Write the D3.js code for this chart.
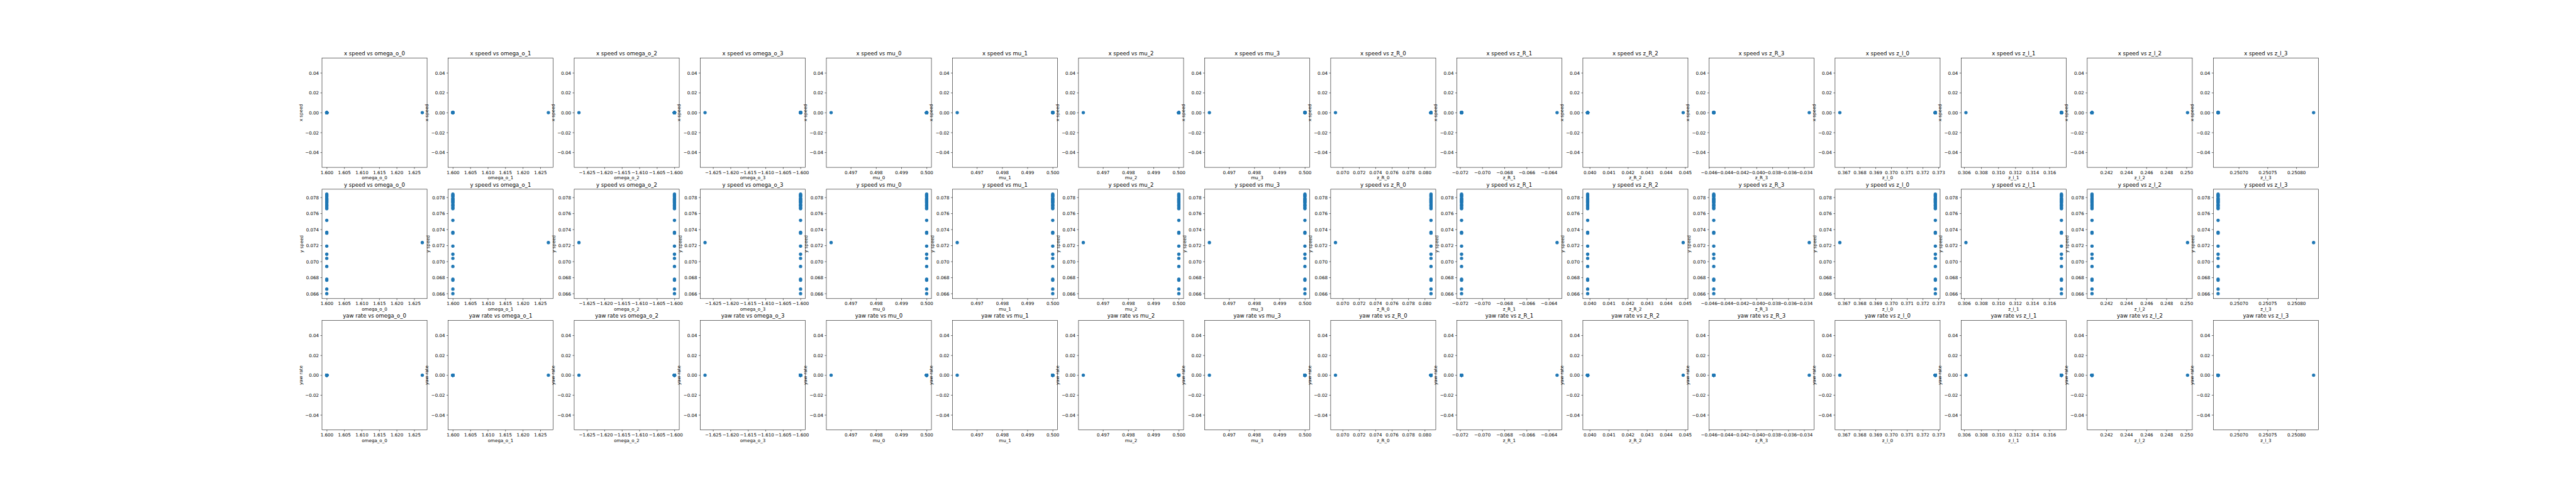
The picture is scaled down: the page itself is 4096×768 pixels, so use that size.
<!DOCTYPE html>
<html><head><meta charset="utf-8">
<script src="https://cdn.jsdelivr.net/npm/d3@7"></script>
<style>
html,body{margin:0;padding:0;background:#fff;overflow:hidden;}
svg{display:block;}
text{font-family:"DejaVu Sans",sans-serif;fill:#000;}
</style>
</head><body><div id="chart"></div>
<script>
// ---------------- data ----------------
const rowNames = ["x speed", "y speed", "yaw rate"];
const varNames = ["omega_o_0","omega_o_1","omega_o_2","omega_o_3",
                  "mu_0","mu_1","mu_2","mu_3",
                  "z_R_0","z_R_1","z_R_2","z_R_3",
                  "z_l_0","z_l_1","z_l_2","z_l_3"];

const xSpeed = [0, 0,0,0,0,0,0,0,0, 0,0,0,0,0,0,0,0, 0,0,0,0,0,0,0,0,0,0,0];
const ySpeed = [0.07236,
  0.0784, 0.0783, 0.0782, 0.0781, 0.0779, 0.0778, 0.0777, 0.0776,
  0.0775, 0.0774, 0.0773, 0.0771, 0.0770, 0.0769, 0.0767, 0.0766,
  0.07514, 0.07364, 0.07354, 0.07192, 0.07091, 0.07039, 0.06938, 0.0678, 0.06766, 0.06656, 0.06599];
const yawRate = [0, 0,0,0,0,0,0,0,0, 0,0,0,0,0,0,0,0, 0,0,0,0,0,0,0,0,0,0,0];

const omega_o_0 = [1.6273, 1.6,1.6,1.6,1.6,1.6,1.6,1.6,1.6,1.6, 1.6,1.6,1.6,1.6,1.6,1.6,1.6,1.6,1.6, 1.6,1.6,1.6,1.6,1.6,1.6,1.6,1.6,1.6];
const omega_o_1 = [1.6273, 1.6,1.6,1.6,1.6,1.6,1.6,1.6,1.6,1.6, 1.6,1.6,1.6,1.6,1.6,1.6,1.6,1.6,1.6, 1.6,1.6,1.6,1.6,1.6,1.6,1.6,1.6,1.6];
const omega_o_2 = [-1.6273, -1.6,-1.6,-1.6,-1.6,-1.6,-1.6,-1.6,-1.6,-1.6, -1.6,-1.6,-1.6,-1.6,-1.6,-1.6,-1.6,-1.6,-1.6, -1.6,-1.6,-1.6,-1.6,-1.6,-1.6,-1.6,-1.6,-1.6];
const omega_o_3 = [-1.6273, -1.6,-1.6,-1.6,-1.6,-1.6,-1.6,-1.6,-1.6,-1.6, -1.6,-1.6,-1.6,-1.6,-1.6,-1.6,-1.6,-1.6,-1.6, -1.6,-1.6,-1.6,-1.6,-1.6,-1.6,-1.6,-1.6,-1.6];
const mu_0 = [0.49622, 0.5,0.5,0.5,0.5,0.5,0.5,0.5,0.5,0.5, 0.5,0.5,0.5,0.5,0.5,0.5,0.5,0.5,0.5, 0.5,0.5,0.5,0.5,0.5,0.5,0.5,0.5,0.5];
const mu_1 = [0.49622, 0.5,0.5,0.5,0.5,0.5,0.5,0.5,0.5,0.5, 0.5,0.5,0.5,0.5,0.5,0.5,0.5,0.5,0.5, 0.5,0.5,0.5,0.5,0.5,0.5,0.5,0.5,0.5];
const mu_2 = [0.49622, 0.5,0.5,0.5,0.5,0.5,0.5,0.5,0.5,0.5, 0.5,0.5,0.5,0.5,0.5,0.5,0.5,0.5,0.5, 0.5,0.5,0.5,0.5,0.5,0.5,0.5,0.5,0.5];
const mu_3 = [0.49622, 0.5,0.5,0.5,0.5,0.5,0.5,0.5,0.5,0.5, 0.5,0.5,0.5,0.5,0.5,0.5,0.5,0.5,0.5, 0.5,0.5,0.5,0.5,0.5,0.5,0.5,0.5,0.5];
const z_R_0 = [0.06912, 0.08076,0.08076,0.08076,0.08076,0.08076,0.08076,0.08076,0.08076,0.08076, 0.08076,0.08076,0.08076,0.08076,0.08076,0.08076,0.08076,0.08076,0.08076, 0.08076,0.08076,0.08076,0.08076,0.08076,0.08076,0.08076,0.08076,0.08076];
const z_R_1 = [-0.06326, -0.07187,-0.07187,-0.07187,-0.07187,-0.07187,-0.07187,-0.07187,-0.07187,-0.07187, -0.07187,-0.07187,-0.07187,-0.07187,-0.07187,-0.07187,-0.07187,-0.07187,-0.07187, -0.07187,-0.07187,-0.07187,-0.07187,-0.07187,-0.07187,-0.07187,-0.07187,-0.07187];
const z_R_2 = [0.044897, 0.039887,0.039887,0.039887,0.039887,0.039887,0.039887,0.039887,0.039887,0.039887, 0.039887,0.039887,0.039887,0.039887,0.039887,0.039887,0.039887,0.039887,0.039887, 0.039887,0.039887,0.039887,0.039887,0.039887,0.039887,0.039887,0.039887,0.039887];
const z_R_3 = [-0.03336, -0.0454,-0.0454,-0.0454,-0.0454,-0.0454,-0.0454,-0.0454,-0.0454,-0.0454, -0.0454,-0.0454,-0.0454,-0.0454,-0.0454,-0.0454,-0.0454,-0.0454,-0.0454, -0.0454,-0.0454,-0.0454,-0.0454,-0.0454,-0.0454,-0.0454,-0.0454,-0.0454];
const z_l_0 = [0.36673, 0.3728,0.3728,0.3728,0.3728,0.3728,0.3728,0.3728,0.3728,0.3728, 0.3728,0.3728,0.3728,0.3728,0.3728,0.3728,0.3728,0.3728,0.3728, 0.3728,0.3728,0.3728,0.3728,0.3728,0.3728,0.3728,0.3728,0.3728];
const z_l_1 = [0.3062, 0.3174,0.3174,0.3174,0.3174,0.3174,0.3174,0.3174,0.3174,0.3174, 0.3174,0.3174,0.3174,0.3174,0.3174,0.3174,0.3174,0.3174,0.3174, 0.3174,0.3174,0.3174,0.3174,0.3174,0.3174,0.3174,0.3174,0.3174];
const z_l_2 = [0.2501, 0.24056,0.24056,0.24056,0.24056,0.24056,0.24056,0.24056,0.24056,0.24056, 0.24056,0.24056,0.24056,0.24056,0.24056,0.24056,0.24056,0.24056,0.24056, 0.24056,0.24056,0.24056,0.24056,0.24056,0.24056,0.24056,0.24056,0.24056];
const z_l_3 = [0.25083, 0.250664,0.250664,0.250664,0.250664,0.250664,0.250664,0.250664,0.250664,0.250664, 0.250664,0.250664,0.250664,0.250664,0.250664,0.250664,0.250664,0.250664,0.250664, 0.250664,0.250664,0.250664,0.250664,0.250664,0.250664,0.250664,0.250664,0.250664];

// tick labels
const ticksOmegaPos = [1.600, 1.605, 1.610, 1.615, 1.620, 1.625];
const ticksOmegaNeg = [-1.625, -1.620, -1.615, -1.610, -1.605, -1.600];
const ticksMu = [0.497, 0.498, 0.499, 0.500];
const ticksZR0 = [0.070, 0.072, 0.074, 0.076, 0.078, 0.080];
const ticksZR1 = [-0.072, -0.070, -0.068, -0.066, -0.064];
const ticksZR2 = [0.040, 0.041, 0.042, 0.043, 0.044, 0.045];
const ticksZR3 = [-0.046, -0.044, -0.042, -0.040, -0.038, -0.036, -0.034];
const ticksZl0 = [0.367, 0.368, 0.369, 0.370, 0.371, 0.372, 0.373];
const ticksZl1 = [0.306, 0.308, 0.310, 0.312, 0.314, 0.316];
const ticksZl2 = [0.242, 0.244, 0.246, 0.248, 0.250];
const ticksZl3 = [0.25070, 0.25075, 0.25080];
const ticksZeroRow = [-0.04, -0.02, 0.00, 0.02, 0.04];
const ticksYSpeed = [0.066, 0.068, 0.070, 0.072, 0.074, 0.076, 0.078];

// ---------------- assembly ----------------
const xData = [omega_o_0, omega_o_1, omega_o_2, omega_o_3, mu_0, mu_1, mu_2, mu_3,
               z_R_0, z_R_1, z_R_2, z_R_3, z_l_0, z_l_1, z_l_2, z_l_3];
const xTicks = [ticksOmegaPos, ticksOmegaPos, ticksOmegaNeg, ticksOmegaNeg,
                ticksMu, ticksMu, ticksMu, ticksMu,
                ticksZR0, ticksZR1, ticksZR2, ticksZR3,
                ticksZl0, ticksZl1, ticksZl2, ticksZl3];
const xDecimals = [3,3,3,3, 3,3,3,3, 3,3,3,3, 3,3,3,5];
const yData = [xSpeed, ySpeed, yawRate];
const yTicks = [ticksZeroRow, ticksYSpeed, ticksZeroRow];
const yDecimals = [2, 3, 2];

const W = 8000, H = 1500, S = 0.512;
const PT = 100 / 72;
const fs = 10 * PT, tfs = 12 * PT;
const tickLen = 3.5 * PT, tickPad = 3.5 * PT, labelPad = 4 * PT, lw = 0.8 * PT;
const figL = 1000, figR = 7200, figT = 180, figB = 1335;
const nC = varNames.length, nR = rowNames.length;
const axW = (figR - figL) / (nC + (nC - 1) * 0.2);
const axH = (figB - figT) / (nR + (nR - 1) * 0.2);
const color = "#1f77b4";

const svg = d3.select("#chart").append("svg")
  .attr("width", W * S).attr("height", H * S);
svg.append("rect").attr("width", W * S).attr("height", H * S).attr("fill", "#fff");
const root = svg.append("g").attr("transform", `scale(${S})`);

function padDomain(vals) {
  let [a, b] = d3.extent(vals);
  if (a === b) { const e = a === 0 ? 0.05 : Math.abs(a) * 0.05; a -= e; b += e; }
  const m = (b - a) * 0.05;
  return [a - m, b + m];
}

for (let r = 0; r < nR; r++) {
  for (let c = 0; c < nC; c++) {
    const x0 = figL + c * axW * 1.2;
    const y0 = figT + r * axH * 1.2;
    const xv = xData[c], yv = yData[r];
    const n = Math.min(xv.length, yv.length);
    const pts = d3.range(n).map(i => [xv[i], yv[i]]);
    const xs = d3.scaleLinear().domain(padDomain(xv.slice(0, n))).range([x0, x0 + axW]);
    const ys = d3.scaleLinear().domain(padDomain(yv.slice(0, n))).range([y0 + axH, y0]);
    const g = root.append("g");

    // points
    g.append("g").selectAll("circle").data(pts).join("circle")
      .attr("cx", d => xs(d[0])).attr("cy", d => ys(d[1]))
      .attr("r", 3 * PT)
      .attr("fill", color).attr("stroke", color).attr("stroke-width", 1.5 * PT);

    // frame
    g.append("rect").attr("x", x0).attr("y", y0).attr("width", axW).attr("height", axH)
      .attr("fill", "none").attr("stroke", "#000").attr("stroke-width", lw);

    // x axis
    const xa = g.append("g").attr("transform", `translate(0,${y0 + axH})`)
      .call(d3.axisBottom(xs).tickValues(xTicks[c]).tickFormat(d3.format(`.${xDecimals[c]}f`))
        .tickSize(tickLen).tickSizeOuter(0).tickPadding(tickPad));
    xa.select(".domain").remove();
    xa.selectAll(".tick line").attr("stroke", "#000").attr("stroke-width", lw);
    xa.selectAll(".tick text").attr("font-size", fs).attr("font-family", "DejaVu Sans")
      .attr("fill", "#000").attr("dy", "0.77em");

    // y axis
    const ya = g.append("g").attr("transform", `translate(${x0},0)`)
      .call(d3.axisLeft(ys).tickValues(yTicks[r]).tickFormat(d3.format(`.${yDecimals[r]}f`))
        .tickSize(tickLen).tickSizeOuter(0).tickPadding(tickPad));
    ya.select(".domain").remove();
    ya.selectAll(".tick line").attr("stroke", "#000").attr("stroke-width", lw);
    ya.selectAll(".tick text").attr("font-size", fs).attr("font-family", "DejaVu Sans")
      .attr("fill", "#000").attr("dy", "0.36em");

    let maxW = 0;
    ya.selectAll(".tick text").each(function () { maxW = Math.max(maxW, this.getComputedTextLength()); });

    // title
    g.append("text").attr("x", x0 + axW / 2).attr("y", y0 - 6 * PT)
      .attr("text-anchor", "middle").attr("font-size", tfs)
      .text(`${rowNames[r]} vs ${varNames[c]}`);

    // x label
    g.append("text").attr("x", x0 + axW / 2).attr("y", y0 + axH + 37.5)
      .attr("text-anchor", "middle").attr("font-size", fs)
      .text(varNames[c]);

    // y label
    const lx = x0 - tickLen - tickPad - maxW - labelPad - 0.236 * fs;
    const ly = y0 + axH / 2;
    g.append("text").attr("transform", `translate(${lx},${ly}) rotate(-90)`)
      .attr("text-anchor", "middle").attr("font-size", fs)
      .text(rowNames[r]);
  }
}
</script>
</body></html>
